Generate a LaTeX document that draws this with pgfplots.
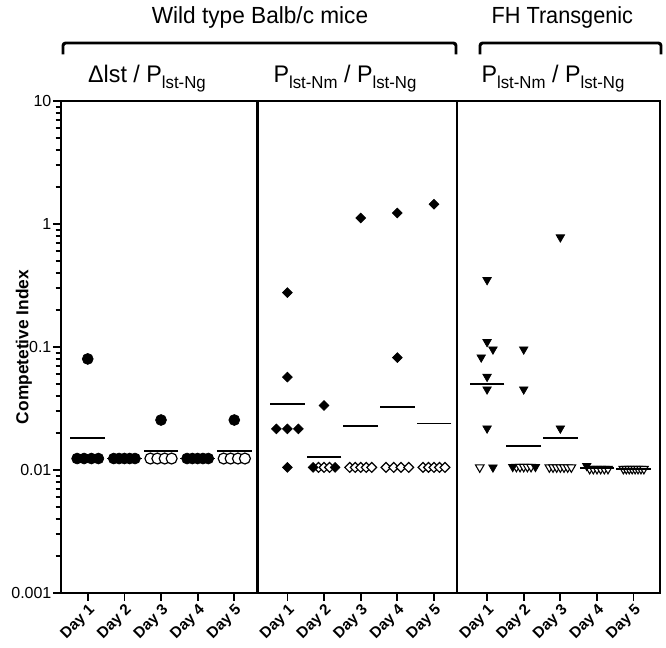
\documentclass[border=0pt]{standalone}
\usepackage{pgfplots}
\pgfplotsset{compat=1.18}
\usepackage{fontspec}
\setmainfont{Liberation Sans}
\begin{document}
\begin{tikzpicture}
\path[use as bounding box] (-45.75pt,-40.5pt) rectangle (453.75pt,444.75pt);
\begin{axis}[
  at={(0,0)}, anchor=south west,
  scale only axis, width=449.25pt, height=369pt,
  ymode=log, ymin=0.001, ymax=10,
  xmin=0.27, xmax=16.62,
  ytick={0.001,0.01,0.1,1,10},
  yticklabels={0.001,0.01,0.1,1,10},
  xtick={1,2,3,4,5,6.45,7.45,8.45,9.45,10.45,11.9,12.9,13.9,14.9,15.9},
  xticklabels={Day 1,Day 2,Day 3,Day 4,Day 5,Day 1,Day 2,Day 3,Day 4,Day 5,Day 1,Day 2,Day 3,Day 4,Day 5},
  xticklabel style={rotate=45, anchor=north east, font=\bfseries\fontsize{11.5}{13}\selectfont, inner sep=1pt},
  yticklabel style={font=\fontsize{12}{14}\selectfont, inner sep=1pt},
  /pgf/number format/assume math mode=true,
  tick align=outside, xtick pos=left, ytick pos=left,
  major tick length=6pt, minor tick length=4pt,
  every tick/.style={black, line width=1.3pt},
  axis line style={line width=1.7pt},
  ylabel={\bfseries Competetive Index},
  ylabel style={font=\fontsize{13}{15}\selectfont, at={(axis description cs:-0.062,0.5)}, anchor=center},
  clip=false,
]
% dividers
\draw[line width=1.7pt] (axis cs:5.63,0.001) -- (axis cs:5.63,10);
\draw[line width=1.7pt] (axis cs:11.08,0.001) -- (axis cs:11.08,10);

% Panel 1: circles
\addplot[only marks, mark=*, mark size=4.1pt, mark options={draw=black, fill=white, line width=0.9pt}] coordinates {
(2.71,0.0124)(2.9,0.0124)(3.1,0.0124)(3.29,0.0124)
(4.71,0.0124)(4.9,0.0124)(5.1,0.0124)(5.29,0.0124)
};
\addplot[only marks, mark=*, mark size=4.1pt, mark options={draw=black, fill=black, line width=0.5pt}] coordinates {
(1,0.08)
(0.71,0.0124)(0.9,0.0124)(1.1,0.0124)(1.29,0.0124)
(1.71,0.0124)(1.855,0.0124)(2,0.0124)(2.145,0.0124)(2.29,0.0124)
(3,0.0255)
(3.71,0.0124)(3.855,0.0124)(4,0.0124)(4.145,0.0124)(4.29,0.0124)
(5,0.0255)
};

% Panel 2: diamonds
\addplot[only marks, mark=square*, mark size=2.6pt, mark options={rotate=45, draw=black, fill=white, line width=0.9pt}] coordinates {
(7.3,0.0105)(7.45,0.0105)(7.6,0.0105)
(8.15,0.0105)(8.3,0.0105)(8.45,0.0105)(8.6,0.0105)(8.75,0.0105)
(9.14,0.0105)(9.35,0.0105)(9.55,0.0105)(9.76,0.0105)
(10.15,0.0105)(10.3,0.0105)(10.45,0.0105)(10.6,0.0105)(10.75,0.0105)
};
\addplot[only marks, mark=square*, mark size=2.6pt, mark options={rotate=45, draw=black, fill=black, line width=0.5pt}] coordinates {
(6.45,0.277)(6.45,0.057)(6.15,0.0216)(6.45,0.0216)(6.75,0.0216)(6.45,0.0105)
(7.45,0.0335)(7.15,0.0105)(7.75,0.0105)
(8.45,1.12)
(9.45,1.23)(9.45,0.082)
(10.45,1.45)
};

% Panel 3: triangles
\addplot[only marks, mark=triangle*, mark size=3.7pt, mark options={rotate=180, draw=black, fill=white, line width=0.8pt}] coordinates {
(11.7,0.0105)
(12.7,0.0106)(12.8,0.0106)(12.9,0.0106)(13.0,0.0106)(13.1,0.0106)
(13.6,0.0105)(13.7,0.0105)(13.8,0.0105)(13.9,0.0105)(14.0,0.0105)(14.1,0.0105)(14.2,0.0105)
(14.7,0.0102)(14.8,0.0102)(14.9,0.0102)(15.0,0.0102)(15.1,0.0102)(15.2,0.0102)
(15.62,0.0102)(15.7,0.0102)(15.78,0.0102)(15.86,0.0102)(15.94,0.0102)(16.02,0.0102)(16.1,0.0102)(16.18,0.0102)
};
\addplot[only marks, mark=triangle*, mark size=3.7pt, mark options={rotate=180, draw=black, fill=black, line width=0.5pt}] coordinates {
(11.9,0.351)(11.9,0.110)(12.06,0.0957)(11.74,0.0824)(11.9,0.0574)(11.9,0.0453)(11.9,0.0218)(12.06,0.0105)
(12.9,0.0957)(12.9,0.0453)(12.6,0.0106)(13.22,0.0106)
(13.9,0.78)(13.9,0.0218)
(14.62,0.0108)
};

% geometric means
\addplot[only marks, mark=-, mark size=13pt, mark options={line width=1.4pt, draw=black}] coordinates {
(1,0.0183)(2,0.0124)(3,0.0143)(4,0.0124)(5,0.0143)
(6.45,0.0344)(7.45,0.0128)(8.45,0.0229)(9.45,0.0327)(10.45,0.0239)
(11.9,0.0499)(12.9,0.0158)(13.9,0.0183)(14.9,0.0104)(15.9,0.0102)
};
\end{axis}

% headers
\node[anchor=base, font=\fontsize{17.5}{20}\selectfont] at (149.25pt,427pt) {\scalebox{0.97}[1]{Wild type Balb/c mice}};
\node[anchor=base, font=\fontsize{17.5}{20}\selectfont] at (376pt,427pt) {\scalebox{0.93}[1]{FH Transgenic}};
\draw[line width=2.2pt, rounded corners=2pt] (1.5pt,404pt) -- (1.5pt,412.5pt) -- (296.25pt,412.5pt) -- (296.25pt,404pt);
\draw[line width=2.2pt, rounded corners=2pt] (314.25pt,404pt) -- (314.25pt,412.5pt) -- (450pt,412.5pt) -- (450pt,404pt);

\newcommand{\sub}[1]{\raisebox{-4.5pt}{\fontsize{13}{15}\selectfont #1}}
\node[anchor=base, font=\fontsize{18}{20}\selectfont] at (64.5pt,382.5pt) {\scalebox{0.97}[1]{Δlst / P\sub{lst-Ng}}};
\node[anchor=base, font=\fontsize{18}{20}\selectfont] at (213pt,382.5pt) {\scalebox{0.97}[1]{P\sub{lst-Nm} / P\sub{lst-Ng}}};
\node[anchor=base, font=\fontsize{18}{20}\selectfont] at (369pt,382.5pt) {\scalebox{0.97}[1]{P\sub{lst-Nm} / P\sub{lst-Ng}}};
\end{tikzpicture}
\end{document}
